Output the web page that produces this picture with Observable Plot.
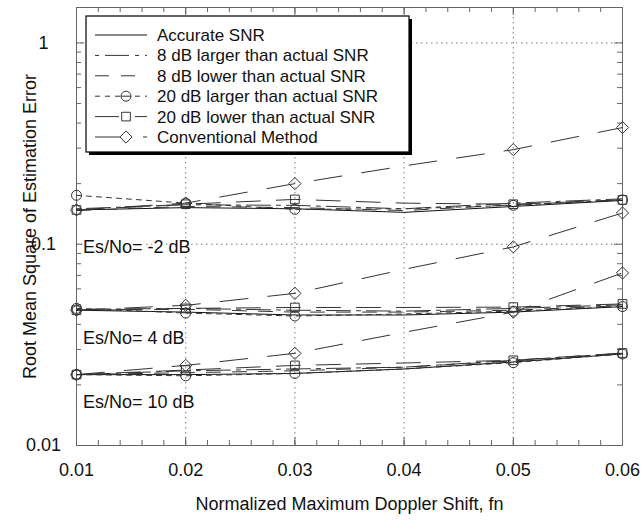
<!DOCTYPE html>
<html>
<head>
<meta charset="utf-8">
<script src="https://cdn.jsdelivr.net/npm/d3@7"></script>
<script src="https://cdn.jsdelivr.net/npm/@observablehq/plot@0.6"></script>
<style>
  html, body { margin: 0; padding: 0; background: white; }
  svg { display: block; }
</style>
</head>
<body>
<div id="chart"></div>
<script>
// ---------- data ----------
const xs = [0.01, 0.02, 0.03, 0.04, 0.05, 0.06];
const seriesNames = [
  "Accurate SNR",
  "8 dB larger than actual SNR",
  "8 dB lower than actual SNR",
  "20 dB larger than actual SNR",
  "20 dB lower than actual SNR",
  "Conventional Method"
];
const groupNames = ["Es/No= -2 dB", "Es/No= 4 dB", "Es/No= 10 dB"];

// Es/No = -2 dB
const accurate_m2  = [0.148, 0.152, 0.150, 0.144, 0.154, 0.165];
const larger8_m2   = [0.150, 0.157, 0.156, 0.150, 0.160, 0.168];
const lower8_m2    = [0.147, 0.154, 0.152, 0.147, 0.157, 0.166];
const larger20_m2  = [0.175, 0.160, 0.149, 0.150, 0.156, 0.166];
const lower20_m2   = [0.148, 0.158, 0.167, 0.160, 0.158, 0.166];
const conv_m2      = [0.148, 0.160, 0.200, 0.245, 0.295, 0.380];
// Es/No = 4 dB
const accurate_4   = [0.047, 0.046, 0.0445, 0.0445, 0.046, 0.049];
const larger8_4    = [0.0475, 0.048, 0.047, 0.0465, 0.048, 0.050];
const lower8_4     = [0.047, 0.0475, 0.046, 0.046, 0.047, 0.0495];
const larger20_4   = [0.048, 0.0455, 0.044, 0.045, 0.0465, 0.049];
const lower20_4    = [0.047, 0.048, 0.0485, 0.0485, 0.0487, 0.0505];
const conv_4       = [0.047, 0.0497, 0.057, 0.075, 0.097, 0.143];
// Es/No = 10 dB
const accurate_10  = [0.0225, 0.0225, 0.0228, 0.024, 0.026, 0.0285];
const larger8_10   = [0.0225, 0.0235, 0.024, 0.0245, 0.0265, 0.0287];
const lower8_10    = [0.0225, 0.023, 0.0235, 0.0245, 0.0263, 0.0285];
const larger20_10  = [0.0225, 0.0222, 0.0228, 0.024, 0.0258, 0.0285];
const lower20_10   = [0.0225, 0.0237, 0.025, 0.0257, 0.0265, 0.0288];
const conv_10      = [0.0225, 0.025, 0.0287, 0.0365, 0.046, 0.072];

const markerXs = [0.01, 0.02, 0.03, 0.05, 0.06];   // x values that carry a marker

const xTicks = [0.01, 0.02, 0.03, 0.04, 0.05, 0.06];
const xTickLabels = ["0.01", "0.02", "0.03", "0.04", "0.05", "0.06"];
const yTicks = [0.01, 0.1, 1];
const yTickLabels = ["0.01", "0.1", "1"];
const xMinor = d3.range(0.012, 0.0599, 0.002);
const yMinor = [0.02,0.03,0.04,0.05,0.06,0.07,0.08,0.09,0.2,0.3,0.4,0.5,0.6,0.7,0.8,0.9];

const groupLabelX = [0.0106, 0.0106, 0.0106];
const groupLabelY = [0.0966, 0.034, 0.0164];

const xTitle = "Normalized Maximum Doppler Shift, fn";
const yTitle = "Root Mean Square of Estimation Error";

// ---------- styles ----------
const styles = [
  {dash: null,         stroke: "#111", symbol: null},
  {dash: "4,6,24,6",   stroke: "#333", symbol: null},
  {dash: "14,12",      stroke: "#333", symbol: null},
  {dash: "5,5",        stroke: "#333", symbol: "circle"},
  {dash: "24,16",      stroke: "#333", symbol: "square2"},
  {dash: "28,20",      stroke: "#333", symbol: "diamond2"}
];

const groups = [
  [accurate_m2, larger8_m2, lower8_m2, larger20_m2, lower20_m2, conv_m2],
  [accurate_4, larger8_4, lower8_4, larger20_4, lower20_4, conv_4],
  [accurate_10, larger8_10, lower8_10, larger20_10, lower20_10, conv_10]
];

const rows = [];
groups.forEach((g, gi) => g.forEach((vals, si) => vals.forEach((v, i) =>
  rows.push({group: gi, series: si, x: xs[i], y: v}))));

const W = 641, H = 523;
const mL = 76, mR = 19, mT = 7, mB = 78;
const plotH = H - mT - mB, plotW = W - mL - mR;

const marks = [
  Plot.ruleX(xTicks, {x: d => d, stroke: "#777", strokeDasharray: "1.5,3.5"}),
  Plot.ruleY(yTicks, {y: d => d, stroke: "#777", strokeDasharray: "1.5,3.5"}),
  // minor ticks inside frame
  Plot.ruleX(xMinor, {x: d => d, stroke: "#666", insetTop: plotH - 5}),
  Plot.ruleX(xMinor, {x: d => d, stroke: "#666", insetBottom: plotH - 5}),
  Plot.ruleY(yMinor, {y: d => d, stroke: "#666", insetRight: plotW - 5}),
  Plot.ruleY(yMinor, {y: d => d, stroke: "#666", insetLeft: plotW - 5}),
  Plot.ruleX(xTicks, {x: d => d, stroke: "#666", insetTop: plotH - 8}),
  Plot.ruleX(xTicks, {x: d => d, stroke: "#666", insetBottom: plotH - 8}),
  Plot.ruleY(yTicks, {y: d => d, stroke: "#666", insetRight: plotW - 8}),
  Plot.ruleY(yTicks, {y: d => d, stroke: "#666", insetLeft: plotW - 8}),
  Plot.frame({stroke: "#666"})
];

styles.forEach((s, si) => {
  for (let gi = 0; gi < groups.length; gi++) {
    const data = rows.filter(r => r.series === si && r.group === gi);
    marks.push(Plot.line(data, {x: "x", y: "y", stroke: s.stroke, strokeWidth: 1,
      strokeDasharray: s.dash || undefined}));
    if (s.symbol) {
      marks.push(Plot.dot(data.filter(r => markerXs.includes(r.x)),
        {x: "x", y: "y", symbol: s.symbol, r: s.symbol === "circle" ? 5 : 5.5,
         stroke: "#333", strokeWidth: 1, fill: "none"}));
    }
  }
});

marks.push(
  Plot.text(groupNames, {x: (d, i) => groupLabelX[i], y: (d, i) => groupLabelY[i], text: d => d,
    textAnchor: "start", fontSize: 18, fill: "#111", stroke: "white", strokeWidth: 4}),
  Plot.text(xTickLabels, {x: (d, i) => xTicks[i], text: d => d, frameAnchor: "bottom", dy: 30, fontSize: 18, fill: "#111"}),
  Plot.text(yTickLabels, {y: (d, i) => yTicks[i], text: d => d, frameAnchor: "left", dx: -33, textAnchor: "middle", fontSize: 18, fill: "#111"}),
  Plot.text([xTitle], {text: d => d, frameAnchor: "bottom", dy: 64, fontSize: 18, fill: "#111"}),
  Plot.text([yTitle], {text: d => d, frameAnchor: "left", dx: -46, rotate: -90, textAnchor: "middle", fontSize: 18, fill: "#111"})
);

const chart = Plot.plot({
  width: W, height: H,
  marginLeft: mL, marginRight: mR, marginTop: mT, marginBottom: mB,
  x: {type: "linear", domain: [0.01, 0.06], axis: null},
  y: {type: "log", domain: [0.01, 1.5], axis: null},
  style: {fontFamily: "'Liberation Sans', Arial, sans-serif", background: "white"},
  marks
});
document.getElementById("chart").appendChild(chart);

// ---------- legend ----------
const svg = d3.select(chart);
const lg = svg.append("g");
const bx = 86, by = 16, bw = 323, bh = 136;
lg.append("rect").attr("x", bx + 3).attr("y", by + 3).attr("width", bw).attr("height", bh).attr("fill", "#000");
lg.append("rect").attr("x", bx).attr("y", by).attr("width", bw).attr("height", bh)
  .attr("fill", "white").attr("stroke", "#000").attr("stroke-width", 1.2);
const sym = {circle: d3.symbolCircle, square2: d3.symbolSquare2, diamond2: d3.symbolDiamond2};
seriesNames.forEach((name, i) => {
  const y = by + 19 + i * 20.4;
  const s = styles[i];
  lg.append("line").attr("x1", 95).attr("x2", 147).attr("y1", y).attr("y2", y)
    .attr("stroke", s.stroke).attr("stroke-width", 1)
    .attr("stroke-dasharray", s.dash || null);
  if (s.symbol) {
    const r = s.symbol === "circle" ? 5 : 5.5;
    lg.append("path").attr("transform", `translate(126,${y})`)
      .attr("d", d3.symbol(sym[s.symbol], Math.PI * r * r)())
      .attr("fill", "white").attr("stroke", "#333");
    if (s.symbol === "circle") {
      lg.append("line").attr("x1", 121).attr("x2", 131).attr("y1", y).attr("y2", y).attr("stroke", "#333");
    }
  }
  lg.append("text").attr("x", 157).attr("y", y).attr("dy", "0.35em")
    .attr("text-anchor", "start")
    .attr("font-size", 17).attr("fill", "#111").text(name);
});
</script>
</body>
</html>
